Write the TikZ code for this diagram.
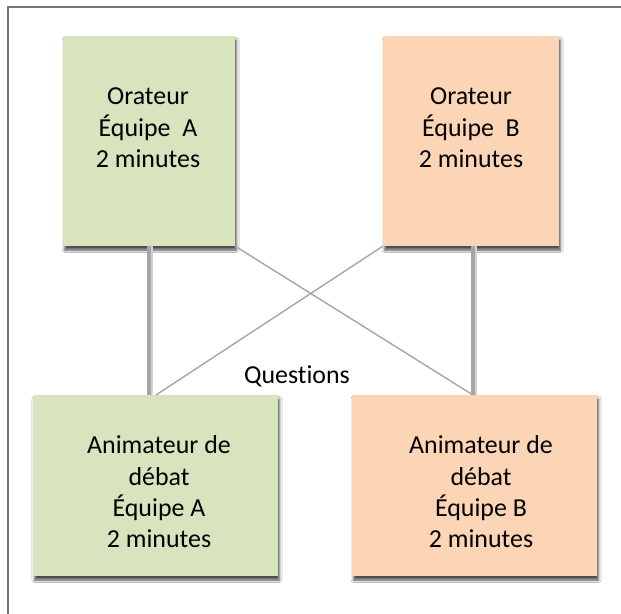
\documentclass[tikz,border=0pt]{standalone}
\usepackage{fontspec}
\setmainfont[Ligatures=NoCommon]{Carlito}
\usetikzlibrary{shadows.blur}
\definecolor{boxgreen}{HTML}{D7E4BD}
\definecolor{boxorange}{HTML}{FBD5B5}
\definecolor{linegray}{HTML}{A6A6A6}
\definecolor{framegray}{HTML}{767676}
\tikzset{
  card/.style={draw=none, minimum width=#1, inner sep=0pt,
    blur shadow={shadow xshift=1.5bp, shadow yshift=-4bp, shadow blur radius=2.5bp, shadow opacity=70}},
  greencard/.style={card=#1, fill=boxgreen},
  orangecard/.style={card=#1, fill=boxorange},
  cardtext/.style={align=center, inner sep=0pt, font=\fontsize{26}{31.5}\selectfont},
  thickline/.style={draw=linegray, line width=4.5bp},
  thickshadow/.style={draw=gray!35, line width=4.5bp},
  thinline/.style={draw=linegray, line width=1.4bp},
  frameline/.style={draw=framegray, line width=1.5bp}
}
\begin{document}
\begin{tikzpicture}[x=1bp, y=-1bp]
\useasboundingbox (0,0) rectangle (621,614);
\fill[white] (0,0) rectangle (621,614);
\draw[frameline] (8,620) -- (8,7) -- (630,7);

% boxes
\node[greencard=172bp, minimum height=210bp] (ta) at (149,141) {};
\node[orangecard=176bp, minimum height=210bp] (tb) at (471,141) {};
\node[greencard=245bp, minimum height=181bp] (ba) at (155.5,485.5) {};
\node[orangecard=245bp, minimum height=181bp] (bb) at (474.5,485.5) {};

% connector end points on the lower boxes
\coordinate (ba-in) at (156,395);
\coordinate (bb-in) at (473,395);

% connectors
\draw[thickshadow] ([xshift=2bp,yshift=1bp]ta.south) -- ([xshift=2bp]ta.south |- ba.north);
\draw[thickline] (ta.south) -- (ta.south |- ba.north);
\draw[thickshadow] ([xshift=2bp,yshift=1bp]bb-in |- tb.south) -- ([xshift=2bp]bb-in);
\draw[thickline] (bb-in |- tb.south) -- (bb-in);
\draw[thinline] (ta.south east) -- (bb-in);
\draw[thinline] (tb.south west) -- (ba-in);

% texts
\node[cardtext] (ta-t) at (148,128) {Orateur\\Équipe~~A\\2 minutes};
\node[cardtext] (tb-t) at (471,128) {Orateur\\Équipe~~B\\2 minutes};
\node[cardtext] (ba-t) at (159,492) {Animateur de\\débat\\Équipe A\\2 minutes};
\node[cardtext] (bb-t) at (481,492) {Animateur de\\débat\\Équipe B\\2 minutes};
\node[cardtext, anchor=base] (q) at (297,383) {Questions};
\end{tikzpicture}
\end{document}
